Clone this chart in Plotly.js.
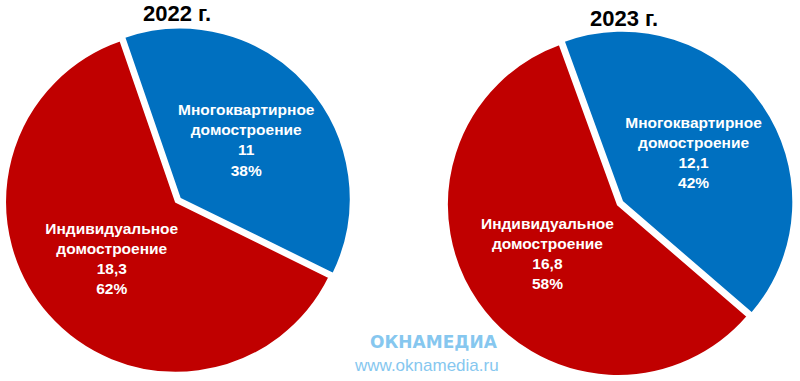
<!DOCTYPE html>
<html>
<head>
<meta charset="utf-8">
<script src="https://cdn.plot.ly/plotly-3.0.1.min.js"></script>
<style>html,body{margin:0;padding:0;background:#fff;}#chart{width:800px;height:381px;}</style>
</head>
<body>
<div id="chart"></div>
<script>
// Data
const categories = ["Многоквартирное<br>домостроение", "Индивидуальное<br>домостроение"];
const years = ["2022 г.", "2023 г."];
const values2022 = [11, 18.3];
const values2023 = [12.1, 16.8];
const valueLabels2022 = ["11", "18,3"];
const valueLabels2023 = ["12,1", "16,8"];
const percentLabels2022 = ["38%", "62%"];
const percentLabels2023 = ["42%", "58%"];

const colors = ["#0070C0", "#C00000"];

function makePie(values, valueLabels, pctLabels, domain, rotation) {
  return {
    type: "pie",
    values: values,
    labels: categories,
    customdata: valueLabels.map((v, i) => [v, pctLabels[i]]),
    texttemplate: "%{label}<br>%{customdata[0]}<br>%{customdata[1]}",
    textinfo: "text",
    textposition: "inside",
    insidetextorientation: "horizontal",
    insidetextfont: {family: "Liberation Sans, Arial, sans-serif", size: 15.5, color: "#ffffff", weight: "bold"},
    sort: false,
    direction: "clockwise",
    rotation: rotation,
    pull: [0.03, 0],
    marker: {colors: colors, line: {color: "#ffffff", width: 2}},
    domain: domain,
    showlegend: false,
    hoverinfo: "none"
  };
}

const data = [
  makePie(values2022, valueLabels2022, percentLabels2022, {x: [0.0, 0.44], y: [0.0, 0.94]}, -19),
  makePie(values2023, valueLabels2023, percentLabels2023, {x: [0.55, 0.995], y: [0.0, 0.925]}, -20)
];

const layout = {
  width: 800,
  height: 381,
  margin: {l: 0, r: 0, t: 0, b: 0},
  paper_bgcolor: "#ffffff",
  plot_bgcolor: "#ffffff",
  showlegend: false,
  annotations: [
    {text: "<b>" + years[0] + "</b>", x: 177 / 800, y: 1 - 14 / 381, xref: "paper", yref: "paper", xanchor: "center", yanchor: "middle", showarrow: false, font: {family: "Liberation Sans, Arial, sans-serif", size: 22, color: "#000000"}},
    {text: "<b>" + years[1] + "</b>", x: 624 / 800, y: 1 - 18 / 381, xref: "paper", yref: "paper", xanchor: "center", yanchor: "middle", showarrow: false, font: {family: "Liberation Sans, Arial, sans-serif", size: 22, color: "#000000"}},
    {text: "<b>ОКНАМЕДИА</b>", x: 434 / 800, y: 1 - 342 / 381, xref: "paper", yref: "paper", xanchor: "center", yanchor: "middle", showarrow: false, font: {family: "DejaVu Sans, sans-serif", size: 17, color: "#86c7ef"}},
    {text: "www.oknamedia.ru", x: 426 / 800, y: 1 - 365 / 381, xref: "paper", yref: "paper", xanchor: "center", yanchor: "middle", showarrow: false, font: {family: "Liberation Sans, Arial, sans-serif", size: 17, color: "#86c7ef"}}
  ]
};

Plotly.newPlot("chart", data, layout, {staticPlot: true, displayModeBar: false});
</script>
</body>
</html>
